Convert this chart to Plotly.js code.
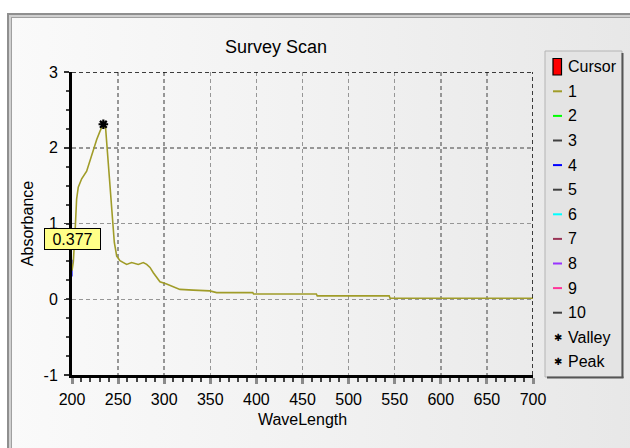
<!DOCTYPE html>
<html>
<head>
<meta charset="utf-8">
<script src="https://cdn.plot.ly/plotly-3.0.1.min.js"></script>
<style>
  html, body { margin:0; padding:0; background:#ffffff; width:630px; height:448px; overflow:hidden; }
  #frame { position:absolute; left:7px; top:13px; width:640px; height:450px;
           background:linear-gradient(to right, #fafafa 0%, #f1f1f1 50%, #e7e7e7 100%);
           border-left:2px solid #8f8f8f; border-top:2px solid #8f8f8f;
           box-shadow: inset 2px 2px 0 #d0d0d0, inset 3px 3px 0 #a0a0a0; }
  #chart { position:absolute; left:0; top:0; width:630px; height:448px; }
</style>
</head>
<body>
<div id="frame"></div>
<div id="chart"></div>
<script>
// ---- data ----
const wavelength = [200, 201.4, 203.3, 205, 206.8, 210.5, 215.9, 219.5, 223.1, 226.8, 230.4, 234,
  236.5, 239.4, 242, 244.1, 245.9, 248.5, 252, 259.3, 264.7, 271.9, 277.3, 281, 284.6, 288.2,
  291.9, 295.4, 302.6, 309.9, 317, 331.5, 349.5, 356.8, 396, 397, 465, 466, 544, 545, 700];
const absorbance = [0.377, 0.49, 0.88, 1.32, 1.48, 1.59, 1.69, 1.83, 1.98, 2.11, 2.22, 2.31,
  2.25, 1.76, 1.32, 1.01, 0.75, 0.57, 0.51, 0.46, 0.485, 0.46, 0.485, 0.46, 0.42, 0.35,
  0.29, 0.23, 0.20, 0.16, 0.13, 0.12, 0.11, 0.088, 0.088, 0.07, 0.07, 0.044, 0.044, 0.013, 0.013];
const peakX = [234];
const peakY = [2.31];
const cursorX = [200, 200];
const cursorY = [0.30, 0.52];
const cursorValue = 0.377;
const xTicks = [200, 250, 300, 350, 400, 450, 500, 550, 600, 650, 700];
const yTicks = [-1, 0, 1, 2, 3];
const legendNames = ['Cursor', '1', '2', '3', '4', '5', '6', '7', '8', '9', '10', 'Valley', 'Peak'];

// ---- styles ----
const legendColors = ['#ff0000', '#a09c28', '#00ff00', '#404040', '#0000ff', '#404040', '#00ffff',
  '#993355', '#9933ff', '#ff3399', '#404040', '#000000', '#000000'];
const FONT = 'Liberation Sans, Arial, sans-serif';

// plot area in pixels: x 72..533, y 72..375
const L = 72, R = 533, T = 72, B = 375;
const px = p => (p - L) / (R - L);
const py = p => (B - p) / (B - T);

const traces = [
  { x: cursorX, y: cursorY, mode: 'lines', line: { color: '#6a6aff', width: 2 },
    hoverinfo: 'skip', showlegend: false },
  { x: wavelength, y: absorbance, mode: 'lines', line: { color: '#a09c28', width: 1.6 },
    name: '1', showlegend: false },
  { x: peakX, y: peakY, mode: 'markers', cliponaxis: false,
    marker: { symbol: 'asterisk-open', size: 8, color: '#000', line: { color: '#000', width: 2.2 } },
    name: 'Peak', showlegend: false }
];

const shapes = [
  // dashed black top and right border
  { type: 'line', xref: 'x', yref: 'y', x0: 200, x1: 700, y0: 3, y1: 3,
    line: { color: '#000', width: 1.5, dash: '4px,3px' } },
  { type: 'line', xref: 'x', yref: 'y', x0: 700, x1: 700, y0: -1, y1: 3,
    line: { color: '#000', width: 1.5, dash: '4px,3px' } },
  // legend box
  { type: 'rect', xref: 'paper', yref: 'paper', x0: px(545), x1: px(622), y0: py(377), y1: py(51),
    fillcolor: '#e4e4e4', line: { color: '#b4b4b4', width: 1 } },
  { type: 'line', xref: 'paper', yref: 'paper', x0: px(622.5), x1: px(622.5), y0: py(378), y1: py(53),
    line: { color: '#555', width: 2 } },
  { type: 'line', xref: 'paper', yref: 'paper', x0: px(547), x1: px(623.5), y0: py(377.5), y1: py(377.5),
    line: { color: '#555', width: 2 } }
];
const annotations = [
  { text: String(cursorValue), xref: 'x', yref: 'paper', x: 200, y: py(239),
    xanchor: 'center', yanchor: 'middle', showarrow: false,
    bgcolor: '#ffff88', bordercolor: '#000', borderwidth: 1, borderpad: 1,
    width: 53, height: 18, font: { family: FONT, size: 16, color: '#000' } }
];

legendNames.forEach((name, i) => {
  const cy = 66.7 + i * 24.6;
  if (i === 0) {
    shapes.push({ type: 'rect', xref: 'paper', yref: 'paper', x0: px(553), x1: px(561.5),
      y0: py(75), y1: py(58.5), fillcolor: legendColors[i], line: { color: '#000', width: 1.2 } });
  } else if (name === 'Valley' || name === 'Peak') {
    annotations.push({ text: '✱', xref: 'paper', yref: 'paper', x: px(557.5), y: py(cy),
      xanchor: 'center', yanchor: 'middle', showarrow: false,
      font: { family: 'DejaVu Sans', size: 10, color: legendColors[i] } });
  } else {
    shapes.push({ type: 'line', xref: 'paper', yref: 'paper', x0: px(553), x1: px(562),
      y0: py(cy), y1: py(cy), line: { color: legendColors[i], width: 2 } });
  }
  annotations.push({ text: name, xref: 'paper', yref: 'paper', x: px(566), y: py(cy),
    xanchor: 'left', yanchor: 'middle', showarrow: false,
    font: { family: FONT, size: 16, color: '#000' } });
});

const layout = {
  width: 630, height: 448,
  margin: { l: L, r: 630 - R, t: T, b: 448 - B, pad: 0 },
  paper_bgcolor: 'rgba(0,0,0,0)', plot_bgcolor: 'rgba(0,0,0,0)',
  font: { family: FONT, size: 16, color: '#000' },
  showlegend: false,
  title: { text: 'Survey Scan', xref: 'container', yref: 'container',
    x: 276 / 630, y: 1 - 47 / 448, xanchor: 'center', yanchor: 'middle',
    font: { family: FONT, size: 18, color: '#000' } },
  xaxis: {
    range: [200, 700], tickvals: xTicks, ticktext: xTicks.map(String),
    showline: true, linecolor: '#000', linewidth: 3,
    ticks: 'outside', ticklen: 6, tickwidth: 3, tickcolor: '#8a8a8a',
    ticklabelstandoff: 2,
    showgrid: true, gridcolor: '#969696', gridwidth: 1.5, griddash: '4px,3px',
    zeroline: false, layer: 'below traces',
    minor: { dtick: 10, tick0: 200, ticks: 'outside', ticklen: 4, tickwidth: 2, tickcolor: '#444', showgrid: false },
    tickfont: { family: FONT, size: 16, color: '#000' },
    title: { text: 'WaveLength', standoff: 7, font: { family: FONT, size: 16, color: '#000' } }
  },
  yaxis: {
    range: [-1, 3], tickvals: yTicks, ticktext: yTicks.map(String),
    showline: true, linecolor: '#000', linewidth: 3,
    ticks: 'outside', ticklen: 5, tickwidth: 1.5, tickcolor: '#333',
    ticklabelstandoff: 3,
    showgrid: true, gridcolor: '#969696', gridwidth: 1.5, griddash: '4px,3px',
    zeroline: false, layer: 'below traces',
    minor: { dtick: 0.25, tick0: -1, ticks: 'outside', ticklen: 3, tickwidth: 2, tickcolor: '#444', showgrid: false },
    tickfont: { family: FONT, size: 16, color: '#000' },
    title: { text: 'Absorbance', standoff: 6, font: { family: FONT, size: 16, color: '#000' } }
  },
  shapes: shapes,
  annotations: annotations
};

Plotly.newPlot('chart', traces, layout, { displayModeBar: false, staticPlot: true });
</script>
</body>
</html>
